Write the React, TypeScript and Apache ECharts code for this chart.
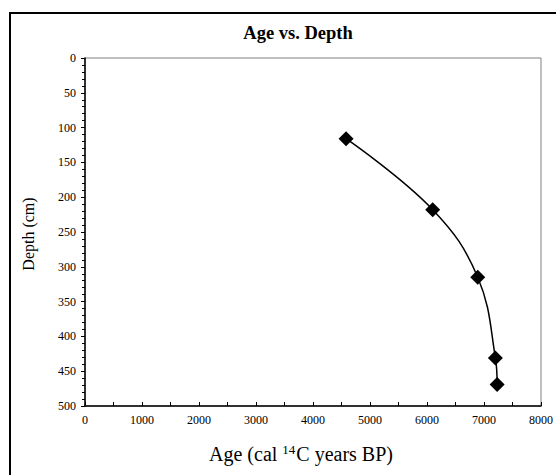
import React, { useEffect, useRef } from "react";
import * as echarts from "echarts";

const ages = [4580, 6100, 6890, 7200, 7230];
const depths = [116, 218, 315, 431, 469];
const xTicks = [0, 1000, 2000, 3000, 4000, 5000, 6000, 7000, 8000];
const yTicks = [0, 50, 100, 150, 200, 250, 300, 350, 400, 450, 500];

const FONT = "Liberation Serif";

export default function App() {
  const ref = useRef<HTMLDivElement>(null);
  useEffect(() => {
    if (!ref.current) return;
    const chart = echarts.init(ref.current, undefined, { renderer: "svg" });
    const data = ages.map((a, i) => [a, depths[i]]);
    chart.setOption({
      animation: false,
      backgroundColor: "#ffffff",
      textStyle: { fontFamily: FONT },
      grid: {
        left: 85,
        top: 58,
        right: 13,
        bottom: 69,
        show: true,
        borderColor: "#808080",
        borderWidth: 1,
        backgroundColor: "#ffffff",
      },
      xAxis: {
        type: "value",
        min: xTicks[0],
        max: xTicks[xTicks.length - 1],
        interval: 1000,
        axisLine: { show: true, onZero: false, lineStyle: { color: "#000", width: 1.5 } },
        axisTick: { show: true, inside: true, length: 4, lineStyle: { color: "#000", width: 1 } },
        minorTick: { show: true, splitNumber: 2, length: 4, lineStyle: { color: "#000", width: 1 } },
        splitLine: { show: false },
        axisLabel: {
          margin: 8,
          fontFamily: FONT,
          fontSize: 12,
          color: "#000",
          formatter: (v: number) => String(v),
        },
      },
      yAxis: {
        type: "value",
        inverse: true,
        min: yTicks[0],
        max: yTicks[yTicks.length - 1],
        interval: 50,
        axisLine: { show: true, onZero: false, lineStyle: { color: "#000", width: 1.5 } },
        axisTick: { show: true, inside: false, length: 4, lineStyle: { color: "#000", width: 1 } },
        minorTick: { show: true, splitNumber: 5, length: 3, lineStyle: { color: "#000", width: 1 } },
        splitLine: { show: false },
        axisLabel: {
          margin: 9,
          fontFamily: FONT,
          fontSize: 12,
          color: "#000",
          formatter: (v: number) => String(v),
        },
      },
      series: [
        {
          type: "line",
          data,
          smooth: 0.4,
          symbol: "diamond",
          symbolSize: 15,
          lineStyle: { color: "#000", width: 1.5 },
          itemStyle: { color: "#000" },
        },
      ],
      graphic: [
        {
          type: "rect",
          shape: { x: 10, y: 13, width: 600, height: 520 },
          style: { fill: "none", stroke: "#000", lineWidth: 2 },
          silent: true,
          z: 100,
        },
        {
          type: "text",
          x: 298,
          y: 32.5,
          style: {
            text: "Age vs. Depth",
            fontFamily: FONT,
            fontSize: 18.5,
            fontWeight: "bold",
            fill: "#000",
            align: "center",
            verticalAlign: "middle",
          },
        },
        {
          type: "text",
          x: 28,
          y: 234,
          rotation: Math.PI / 2,
          style: {
            text: "Depth (cm)",
            fontFamily: FONT,
            fontSize: 16,
            fill: "#000",
            align: "center",
            verticalAlign: "middle",
          },
        },
        {
          type: "text",
          x: 301,
          y: 454,
          style: {
            text: "Age (cal {sup|14}C years BP)",
            fontFamily: FONT,
            fontSize: 20,
            fill: "#000",
            align: "center",
            verticalAlign: "middle",
            rich: {
              sup: { fontFamily: FONT, fontSize: 13, fill: "#000", verticalAlign: "top", padding: [0, 1, 10, 0] },
            },
          },
        },
      ],
    });
    return () => chart.dispose();
  }, []);
  return (
    <div
      ref={ref}
      style={{ position: "absolute", left: 0, top: 0, width: 556, height: 475 }}
    />
  );
}
